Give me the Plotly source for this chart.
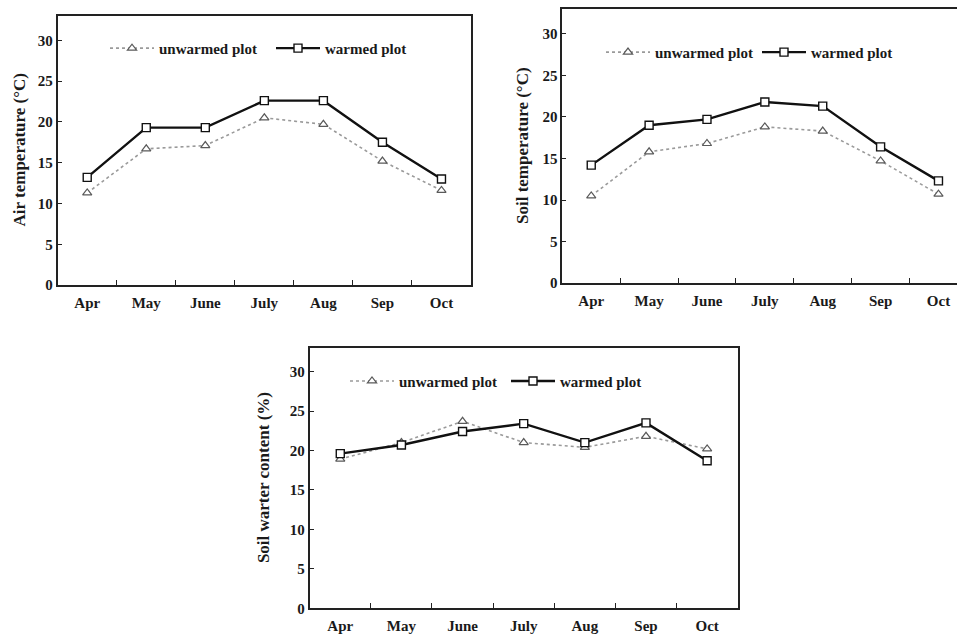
import plotly.graph_objects as go

# Monthly means, April to October
months = ["Apr", "May", "June", "July", "Aug", "Sep", "Oct"]

air_unwarmed = [11.3, 16.7, 17.1, 20.5, 19.7, 15.2, 11.6]
air_warmed = [13.2, 19.3, 19.3, 22.6, 22.6, 17.5, 13.0]

soil_t_unwarmed = [10.5, 15.8, 16.8, 18.8, 18.3, 14.7, 10.7]
soil_t_warmed = [14.2, 19.0, 19.7, 21.8, 21.3, 16.4, 12.3]

soil_w_unwarmed = [18.9, 21.0, 23.7, 21.0, 20.4, 21.8, 20.2]
soil_w_warmed = [19.6, 20.7, 22.4, 23.4, 21.0, 23.5, 18.7]

y_ticks = [0, 5, 10, 15, 20, 25, 30]

W, H = 957, 641
FONT = "Liberation Serif"

panels = [
    # (unwarmed, warmed, title, x-domain px, y-domain px (top, bottom), x-range,
    #  legend pos px, legend entry width, title x px)
    (air_unwarmed, air_warmed, "Air temperature (°C)",
     (57.7, 471.0), (16.0, 288.7), [-0.5, 6.5], (105, 49), 107, 19),
    (soil_t_unwarmed, soil_t_warmed, "Soil temperature (°C)",
     (562.3, 957.0), (9.0, 286.7), [-0.5, 6.32], (601, 53), 97, 522),
    (soil_w_unwarmed, soil_w_warmed, "Soil warter content (%)",
     (309.7, 737.7), (352.3, 616.0), [-0.5, 6.5], (345, 386), 102, 263),
]

fig = go.Figure()
annotations = []
layout = {}

for i, (unw, wrm, title, xd, yd, xr, lg, ew, tx) in enumerate(panels, start=1):
    sfx = "" if i == 1 else str(i)
    lname = "legend" if i == 1 else f"legend{i}"

    fig.add_trace(go.Scatter(
        x=months, y=unw, name="unwarmed plot", mode="lines+markers",
        line=dict(color="#9a9a9a", width=1.6, dash="3px,3px"),
        marker=dict(symbol="triangle-up", size=8, color="white",
                    line=dict(color="#5a5a5a", width=1.2)),
        xaxis="x" + sfx, yaxis="y" + sfx, legend=lname,
    ))
    fig.add_trace(go.Scatter(
        x=months, y=wrm, name="warmed plot", mode="lines+markers",
        line=dict(color="#111111", width=2.4),
        marker=dict(symbol="square", size=8, color="white",
                    line=dict(color="#111111", width=1.4)),
        xaxis="x" + sfx, yaxis="y" + sfx, legend=lname,
    ))

    layout["xaxis" + sfx] = dict(
        domain=[xd[0] / W, xd[1] / W], anchor="y" + sfx,
        type="category", categoryorder="array", categoryarray=months,
        range=xr, tickson="boundaries", ticks="inside", ticklen=5,
        tickcolor="#222", tickwidth=1.2,
        showline=True, linecolor="#222", linewidth=1.8, mirror=True,
        showgrid=False, zeroline=False, fixedrange=True,
        tickfont=dict(family=FONT, size=15, color="#1a1a1a", weight="bold"),
        ticklabelstandoff=3,
    )
    layout["yaxis" + sfx] = dict(
        domain=[1 - yd[1] / H, 1 - yd[0] / H], anchor="x" + sfx,
        range=[0, 33], tickvals=y_ticks, ticks="inside", ticklen=4,
        tickcolor="#222", tickwidth=1.2,
        showline=True, linecolor="#222", linewidth=1.8,
        mirror=(i != 2),
        showgrid=False, zeroline=False, fixedrange=True,
        tickfont=dict(family=FONT, size=15, color="#1a1a1a", weight="bold"),
        ticklabelstandoff=0,
    )
    layout[lname] = dict(
        x=lg[0] / W, y=1 - lg[1] / H, xanchor="left", yanchor="middle",
        orientation="h", bgcolor="rgba(0,0,0,0)", borderwidth=0,
        font=dict(family=FONT, size=15, color="#1a1a1a", weight="bold"),
        itemwidth=44, entrywidth=ew, entrywidthmode="pixels",
        itemclick=False, itemdoubleclick=False,
    )
    annotations.append(dict(
        text=title, textangle=-90, xref="paper", yref="paper",
        x=tx / W, y=1 - (yd[0] + yd[1]) / 2 / H, xanchor="center", yanchor="middle",
        showarrow=False,
        font=dict(family=FONT, size=17, color="#1a1a1a", weight="bold"),
    ))

fig.update_layout(
    width=W, height=H, margin=dict(l=0, r=0, t=0, b=0),
    paper_bgcolor="white", plot_bgcolor="white",
    annotations=annotations, **layout,
)

fig.write_html("out.html", config={"displayModeBar": False})
